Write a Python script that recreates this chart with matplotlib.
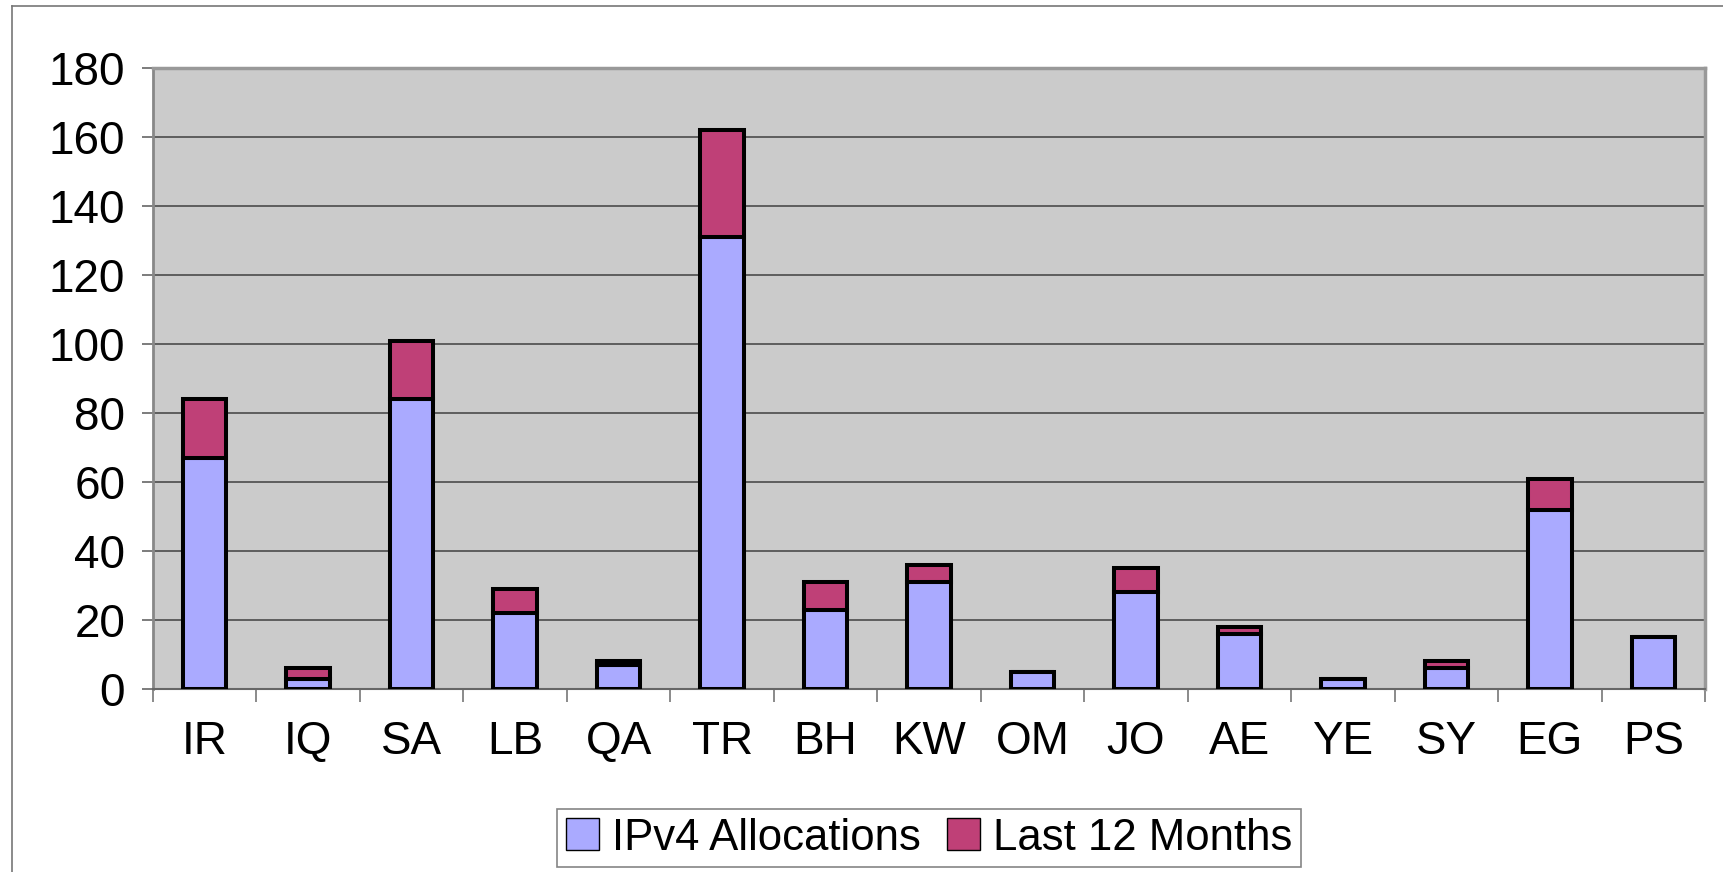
import numpy as np
import matplotlib
matplotlib.use("Agg")
import matplotlib.pyplot as plt
from matplotlib.lines import Line2D

plt.rcParams['font.family'] = ['Liberation Sans', 'DejaVu Sans']

countries = ['IR', 'IQ', 'SA', 'LB', 'QA', 'TR', 'BH', 'KW', 'OM', 'JO',
             'AE', 'YE', 'SY', 'EG', 'PS']
allocations = [67, 3, 84, 22, 7, 131, 23, 31, 5, 28, 16, 3, 6, 52, 15]
last_12 = [17, 3, 17, 7, 1, 31, 8, 5, 0, 7, 2, 0, 2, 9, 0]
yticks = [0, 20, 40, 60, 80, 100, 120, 140, 160, 180]

blue = '#AAAAFF'
magenta = '#BF4077'

fig = plt.figure(figsize=(17.24, 8.72), dpi=100)
ax = fig.add_axes([153 / 1724, 183 / 872, 1552 / 1724, 621 / 872])
ax.set_facecolor('#CBCBCB')

x = np.arange(len(countries))
ax.bar(x, allocations, width=0.42, color=blue, edgecolor='black',
       linewidth=2.9, label='IPv4 Allocations', zorder=3)
ax.bar(x, last_12, width=0.42, bottom=allocations, color=magenta,
       edgecolor='black', linewidth=2.9, label='Last 12 Months', zorder=3)

ax.set_xlim(-0.5, len(countries) - 0.5)
ax.set_ylim(0, 180)
ax.set_yticks(yticks)
ax.yaxis.grid(True, color='#555555', linewidth=1.3, zorder=1)
ax.tick_params(axis='y', labelsize=33, length=8, width=1.2, color='#666666', pad=12)

ax.set_xticks(x)
ax.set_xticklabels(countries)
ax.set_xticks(np.arange(len(countries) + 1) - 0.5, minor=True)
ax.tick_params(axis='x', which='major', labelsize=33, length=0, pad=22)
ax.tick_params(axis='x', which='minor', length=9, width=1.2, color='#777777')

ax.spines['left'].set_color('#888888')
ax.spines['left'].set_linewidth(2)
ax.spines['bottom'].set_color('#666666')
ax.spines['bottom'].set_linewidth(1.5)
ax.spines['top'].set_color('#999999')
ax.spines['top'].set_linewidth(2.5)
ax.spines['right'].set_color('#999999')
ax.spines['right'].set_linewidth(2.5)

leg = fig.legend(loc='center', bbox_to_anchor=(929 / 1724, 1 - 838 / 872),
                 ncol=2, fontsize=31.5, frameon=True, fancybox=False,
                 edgecolor='#666666', handlelength=0.75, handleheight=0.75,
                 handletextpad=0.3, columnspacing=0.6, borderpad=0.2,
                 borderaxespad=0)
leg.get_frame().set_linewidth(1.2)
for h in leg.legend_handles:
    h.set_linewidth(1.0)

# outer chart frame (only left and top edges fall inside the picture)
fig.add_artist(Line2D([12 / 1724, 12 / 1724], [0, 1 - 6 / 872],
                      transform=fig.transFigure, color='#777777', linewidth=1.2))
fig.add_artist(Line2D([12 / 1724, 1], [1 - 6 / 872, 1 - 6 / 872],
                      transform=fig.transFigure, color='#777777', linewidth=1.2))

fig.savefig('out.png', dpi=100)
